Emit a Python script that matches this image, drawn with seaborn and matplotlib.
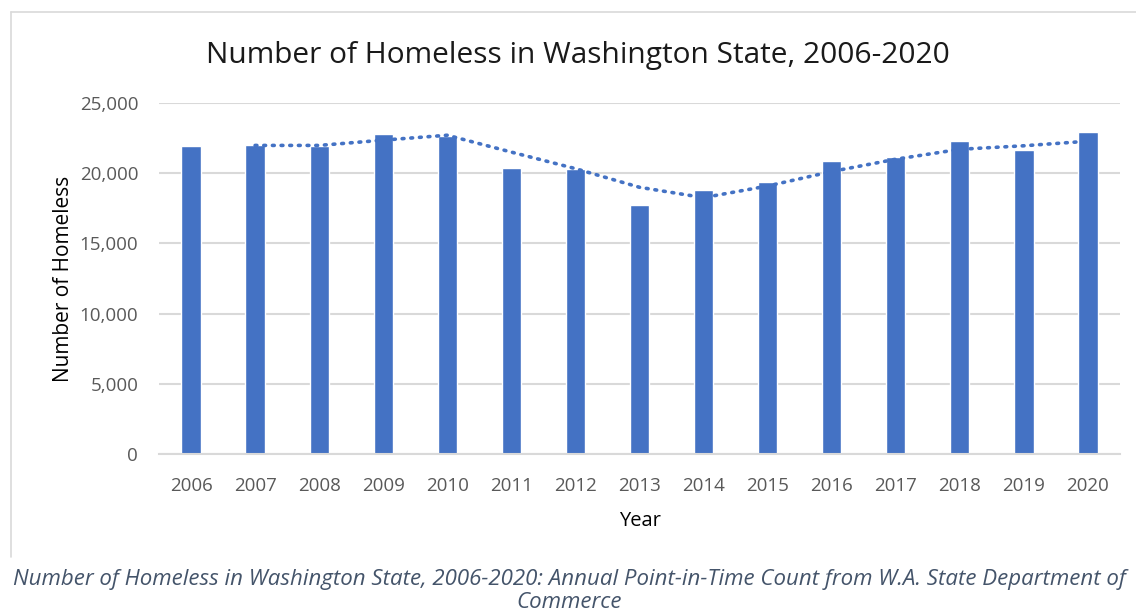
import matplotlib
matplotlib.use("Agg")
import matplotlib.pyplot as plt
import seaborn as sns
import pandas as pd
import numpy as np
from matplotlib.ticker import FuncFormatter

# Annual point-in-time homeless counts, Washington State
years = ["2006", "2007", "2008", "2009", "2010", "2011", "2012", "2013",
         "2014", "2015", "2016", "2017", "2018", "2019", "2020"]
homeless = [21900, 22000, 21900, 22750, 22600, 20350, 20250, 17700,
            18780, 19350, 20840, 21100, 22250, 21600, 22900]
y_ticks = [0, 5000, 10000, 15000, 20000, 25000]

title_text = "Number of Homeless in Washington State, 2006-2020"
caption_lines = [
    "Number of Homeless in Washington State, 2006-2020: Annual Point-in-Time Count from W.A. State Department of",
    "Commerce",
]

BLUE = "#4472C4"
GRID = "#D9D9D9"
TICK = "#595959"

sns.set_theme(style="white")
plt.rcParams["font.family"] = ["Open Sans", "DejaVu Sans"]

df = pd.DataFrame({"Year": years, "Homeless": homeless})
# two-period moving average trendline
df["Trend"] = df["Homeless"].rolling(2).mean()

fig = plt.figure(figsize=(11.36, 6.12), dpi=100)
ax = fig.add_axes([159 / 1136, 1 - 454.3 / 612, (1120 - 159) / 1136, (454.3 - 102.5) / 612])

sns.barplot(data=df, x="Year", y="Homeless", color=BLUE, width=0.3,
            saturation=1, ax=ax, zorder=2)

pos = np.arange(len(years))
mask = df["Trend"].notna().to_numpy()
ax.plot(pos[mask], df["Trend"].to_numpy()[mask], color=BLUE, lw=2.6,
        linestyle=(0, (0.5, 1.9)), dash_capstyle="round", zorder=3)

ax.set_ylim(0, 25000)
ax.set_xlim(-0.5, len(years) - 0.5)
ax.set_yticks(y_ticks)
ax.yaxis.set_major_formatter(FuncFormatter(lambda v, p: f"{int(v):,}"))
ax.grid(axis="y", color=GRID, lw=1.5, zorder=0)
ax.grid(axis="x", visible=False)
for s in ["top", "right", "left"]:
    ax.spines[s].set_visible(False)
ax.spines["bottom"].set_color(GRID)
ax.spines["bottom"].set_linewidth(1.5)
ax.tick_params(axis="both", length=0, labelsize=13.5, labelcolor=TICK)
ax.tick_params(axis="y", pad=15)
ax.tick_params(axis="x", pad=16)

ax.set_xlabel("Year", fontsize=14.5, color="black", labelpad=12)
ax.set_ylabel("Number of Homeless", fontsize=15, color="black", labelpad=4)

fig.text(578 / 1136, 1 - 56 / 612, title_text, ha="center", va="center",
         fontsize=21.5, color="#1a1a1a")

# chart frame (left and top edges)
fig.add_artist(plt.Line2D([11 / 1136, 11 / 1136], [1 - 12 / 612, 1 - 557 / 612],
                          color="#D9D9D9", lw=1.2, transform=fig.transFigure))
fig.add_artist(plt.Line2D([11 / 1136, 1.0], [1 - 12 / 612, 1 - 12 / 612],
                          color="#D9D9D9", lw=1.2, transform=fig.transFigure))

fig.text(569 / 1136, 1 - 579 / 612, caption_lines[0], ha="center", va="center",
         fontsize=16, style="italic", color="#44546A")
fig.text(569 / 1136, 1 - 603 / 612, caption_lines[1], ha="center", va="center",
         fontsize=16, style="italic", color="#44546A")

fig.savefig("out.png", dpi=100)
